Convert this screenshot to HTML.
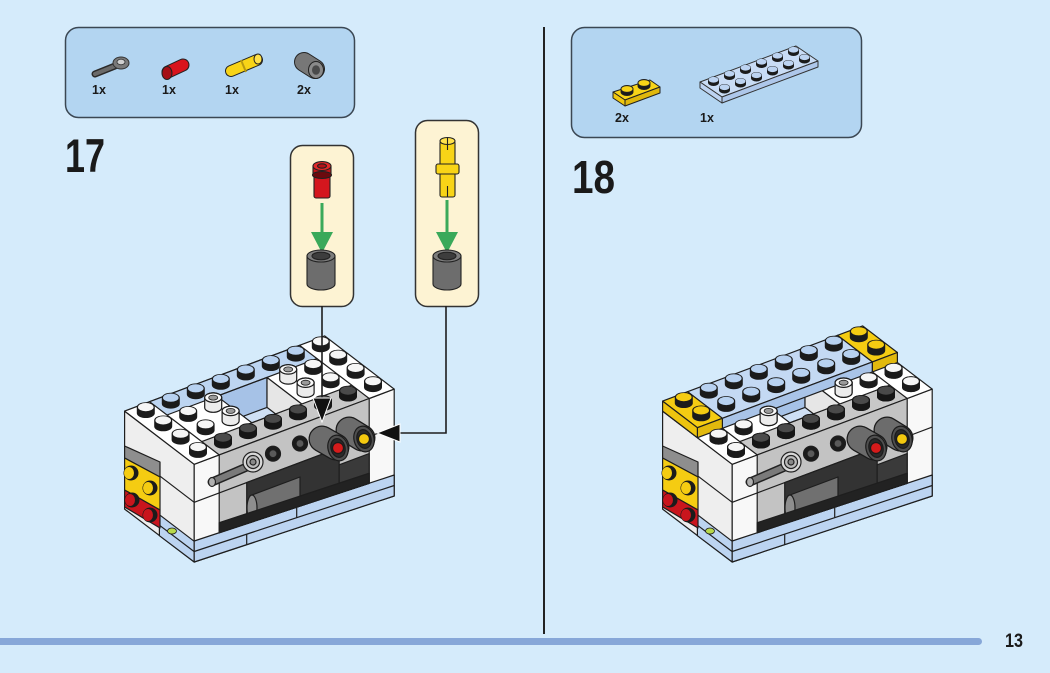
<!DOCTYPE html>
<html><head><meta charset="utf-8"><style>
html,body{margin:0;padding:0;background:#d5ebfb;}
svg{display:block;}
text{font-family:"Liberation Sans",sans-serif;font-weight:bold;fill:#1a1a1a;}
</style></head><body>
<svg width="1050" height="673" viewBox="0 0 1050 673" xmlns="http://www.w3.org/2000/svg">
<defs>
<g id="sW"><path d="M-9,0V-6A9,4.9 0 0 1 9,-6V0A9,4.9 0 0 1 -9,0Z" fill="#1b1b1b"/><ellipse cy="-6" rx="7.8" ry="4.1" fill="#f6f6f6"/></g>
<g id="sB"><path d="M-9,0V-6A9,4.9 0 0 1 9,-6V0A9,4.9 0 0 1 -9,0Z" fill="#1b1b1b"/><ellipse cy="-6" rx="7.8" ry="4.1" fill="#b7d1f0"/></g>
<g id="sK"><path d="M-9,0V-6A9,4.9 0 0 1 9,-6V0A9,4.9 0 0 1 -9,0Z" fill="#161616"/><ellipse cy="-6" rx="7.8" ry="4.1" fill="#4a4a4a"/></g>
<g id="sY"><path d="M-9,0V-6A9,4.9 0 0 1 9,-6V0A9,4.9 0 0 1 -9,0Z" fill="#1b1b1b"/><ellipse cy="-6" rx="7.8" ry="4.1" fill="#f5cc12"/></g>
<g id="sP"><path d="M-8.5,0V-10A8.5,4.7 0 0 1 8.5,-10V0A8.5,4.7 0 0 1 -8.5,0Z" fill="#ececec" stroke="#1b1b1b" stroke-width="1.2"/><ellipse cy="-10" rx="8.5" ry="4.7" fill="#fafafa" stroke="#1b1b1b" stroke-width="1.2"/><ellipse cy="-10" rx="4.5" ry="2.5" fill="#9a9a9a" stroke="#1b1b1b" stroke-width="0.8"/></g>
<clipPath id="rc"><polygon points="251.8,422.8 301.8,404 267,377.4 217,396.2"/></clipPath>

<g id="base">
<g stroke="#1e1e1e" stroke-width="1.2" stroke-linejoin="round">
<polygon points="194.2,464.3 124.6,411.1 124.6,509.1 194.2,562" fill="#eeeeee"/>
<polygon points="194.2,464.3 394.2,389.1 394.2,496 194.2,562" fill="#f8f8f8"/>
<polygon points="194.2,464.3 394.2,389.1 324.6,335.9 124.6,411.1" fill="#ffffff"/>
<polygon points="219.2,454.9 369.2,398.5 351.8,385.2 201.8,441.6" fill="#c8c8c8"/>
<polygon points="167,415 317,358.6 299.6,345.3 149.6,401.7" fill="#bdd5f1"/>
<g clip-path="url(#rc)">
<polygon points="251.8,422.8 301.8,404 267,377.4 217,396.2" fill="#cfe0f5"/>
<polygon points="217,396.2 267,377.4 267,407.4 217,426.2" fill="#a6c2e7"/>
<polygon points="301.8,404 267,377.4 267,407.4 301.8,434" fill="#e6e6e6"/>
</g>
<polygon points="251.8,422.8 301.8,404 267,377.4 217,396.2" fill="none"/>
<line x1="201.8" y1="441.6" x2="167" y2="415"/>
<line x1="351.8" y1="385.2" x2="317" y2="358.6"/>

<line x1="194.2" y1="502.3" x2="159.4" y2="475.7"/>
<polygon points="194.2,541.3 159.4,514.7 159.4,535.7 194.2,562" fill="#bcd4f1"/>
<line x1="194.2" y1="551.6" x2="159.4" y2="525.2"/>
<polygon points="124.6,446 160,462 160,477 124.6,458" fill="#8e8e8e"/>
<polygon points="124.6,458 160,477 160,510 124.6,490" fill="#f5cc12"/>
<polygon points="124.6,490 160,510 160,528 124.6,507" fill="#c9151d"/>
<ellipse cx="172" cy="531" rx="4.5" ry="3" fill="#b8d84a" stroke-width="0.8"/>

<line x1="194.2" y1="502.3" x2="219.2" y2="492.9"/>
<line x1="369.2" y1="436.5" x2="394.2" y2="427.1"/>
<polygon points="194.2,541 394.2,475 394.2,496 194.2,562" fill="#bcd4f1"/>
<line x1="194.2" y1="551.5" x2="394.2" y2="485.5"/>
<line x1="246.7" y1="534.2" x2="246.7" y2="544.7"/>
<line x1="296.7" y1="507.2" x2="296.7" y2="517.7"/>
<polygon points="219.2,454.9 369.2,398.5 369.2,483.25 219.2,532.75" fill="#c3c3c3"/>
<line x1="219.2" y1="492.9" x2="369.2" y2="436.5"/>
<polygon points="246.7,482.6 339.2,447.8 339.2,493.2 246.7,523.7" fill="#333333"/>
<polygon points="252,495 300,477 300,503 252,521" fill="#707070"/>
<ellipse cx="252" cy="508" rx="5" ry="13" fill="#8e8e8e"/>
<polygon points="339.2,464.8 369.2,453.5 369.2,483.25 339.2,493.2" fill="#3a3a3a"/>
<polygon points="219.2,522.75 369.2,473.25 369.2,483.25 219.2,532.75" fill="#222222"/>
<circle cx="273" cy="453.7" r="7.5" fill="#1b1b1b"/>
<circle cx="273" cy="453.7" r="4" fill="#5a5a5a"/>
<circle cx="300" cy="443.5" r="7.5" fill="#1b1b1b"/>
<circle cx="300" cy="443.5" r="4" fill="#5a5a5a"/>
</g>
<line x1="212" y1="482" x2="249" y2="466" stroke="#222" stroke-width="9" stroke-linecap="round"/>
<line x1="212" y1="482" x2="249" y2="466" stroke="#7a7a7a" stroke-width="6" stroke-linecap="round"/>
<g stroke="#222" stroke-width="1.2">
<ellipse cx="212" cy="482" rx="3.5" ry="4.5" fill="#b0b0b0"/>
<circle cx="253" cy="462" r="10" fill="#d8d8d8"/>
<circle cx="253" cy="462" r="6.5" fill="#bbbbbb"/>
<circle cx="253" cy="462" r="3" fill="#888"/>
</g>
<!-- bushing 2 (yellow) -->
<line x1="349" y1="430" x2="362" y2="438" stroke="#1b1b1b" stroke-width="27" stroke-linecap="round"/>
<line x1="349" y1="430" x2="362" y2="438" stroke="#6c6c6c" stroke-width="24.5" stroke-linecap="round"/>
<g stroke="#1b1b1b" stroke-width="1.2">
<ellipse cx="364" cy="439" rx="10" ry="13" transform="rotate(-15 364 439)" fill="#4f4f4f"/>
<ellipse cx="364" cy="439" rx="7" ry="9.5" transform="rotate(-15 364 439)" fill="#2a2a2a"/>
<circle cx="364" cy="439" r="5.5" fill="#f4c90f"/>
</g>
<!-- bushing 1 (red) -->
<line x1="322" y1="439" x2="336" y2="447" stroke="#1b1b1b" stroke-width="27" stroke-linecap="round"/>
<line x1="322" y1="439" x2="336" y2="447" stroke="#6c6c6c" stroke-width="24.5" stroke-linecap="round"/>
<g stroke="#1b1b1b" stroke-width="1.2">
<ellipse cx="338" cy="448" rx="10" ry="13" transform="rotate(-15 338 448)" fill="#4f4f4f"/>
<ellipse cx="338" cy="448" rx="7" ry="9.5" transform="rotate(-15 338 448)" fill="#2a2a2a"/>
<circle cx="338" cy="448" r="5.5" fill="#d51b1b"/>
</g>
<g transform="translate(131,473)"><circle r="7.5" fill="#1b1b1b"/><ellipse cx="-2" rx="5" ry="6" fill="#f5cc12"/></g>
<g transform="translate(150,488)"><circle r="7.5" fill="#1b1b1b"/><ellipse cx="-2" rx="5" ry="6" fill="#f5cc12"/></g>
<g transform="translate(132,500)"><circle r="7.5" fill="#1b1b1b"/><ellipse cx="-2" rx="5" ry="6" fill="#c9151d"/></g>
<g transform="translate(150,515)"><circle r="7.5" fill="#1b1b1b"/><ellipse cx="-2" rx="5" ry="6" fill="#c9151d"/></g>
<use href="#sW" x="320.8" y="347.3"/>
<use href="#sB" x="295.8" y="356.7"/>
<use href="#sB" x="270.8" y="366.1"/>
<use href="#sB" x="245.8" y="375.5"/>
<use href="#sB" x="220.8" y="384.9"/>
<use href="#sB" x="195.8" y="394.3"/>
<use href="#sB" x="170.8" y="403.7"/>
<use href="#sW" x="145.8" y="413.1"/>
<use href="#sW" x="338.2" y="360.6"/>
<use href="#sW" x="313.2" y="370"/>
<use href="#sP" x="288.2" y="379.4"/>
<use href="#sP" x="213.2" y="407.6"/>
<use href="#sW" x="188.2" y="417"/>
<use href="#sW" x="163.2" y="426.4"/>
<use href="#sW" x="355.6" y="373.9"/>
<use href="#sW" x="330.6" y="383.3"/>
<use href="#sP" x="305.6" y="392.7"/>
<use href="#sP" x="230.6" y="420.9"/>
<use href="#sW" x="205.6" y="430.3"/>
<use href="#sW" x="180.6" y="439.7"/>
<use href="#sW" x="373" y="387.2"/>
<use href="#sK" x="348" y="396.6"/>
<use href="#sK" x="323" y="406"/>
<use href="#sK" x="298" y="415.4"/>
<use href="#sK" x="273" y="424.8"/>
<use href="#sK" x="248" y="434.2"/>
<use href="#sK" x="223" y="443.6"/>
<use href="#sW" x="198" y="453"/>
</g>
</defs>

<!-- parts box left -->
<rect x="65.5" y="27.5" width="289" height="90" rx="13" fill="#b3d5f1" stroke="#3b4753" stroke-width="1.5"/>
<line x1="95" y1="74" x2="115" y2="66" stroke="#2a2a2a" stroke-width="7" stroke-linecap="round"/>
<line x1="95" y1="74" x2="115" y2="66" stroke="#6a6a6a" stroke-width="4" stroke-linecap="round"/>
<ellipse cx="121" cy="63" rx="8" ry="6" fill="#7a7a7a" stroke="#333" stroke-width="1"/>
<ellipse cx="121" cy="62" rx="4" ry="2.8" fill="#d0d0d0" stroke="#333" stroke-width="0.8"/>
<line x1="168" y1="72" x2="183" y2="65" stroke="#222" stroke-width="13" stroke-linecap="round"/>
<line x1="168" y1="72" x2="183" y2="65" stroke="#d8141c" stroke-width="11" stroke-linecap="round"/>
<ellipse cx="167" cy="73" rx="5" ry="6.5" fill="#a50f16" stroke="#222" stroke-width="1"/>
<line x1="231" y1="71" x2="257" y2="60" stroke="#222" stroke-width="12" stroke-linecap="round"/>
<line x1="231" y1="71" x2="257" y2="60" stroke="#f8d417" stroke-width="10" stroke-linecap="round"/>
<line x1="241" y1="60" x2="246" y2="72" stroke="#b89a10" stroke-width="2"/>
<ellipse cx="258" cy="59" rx="4" ry="5" fill="#ffe14a" stroke="#222" stroke-width="1"/>
<line x1="304" y1="62" x2="315" y2="69" stroke="#222" stroke-width="20" stroke-linecap="round"/>
<line x1="304" y1="62" x2="315" y2="69" stroke="#777" stroke-width="18" stroke-linecap="round"/>
<ellipse cx="316" cy="70" rx="7.5" ry="8.5" fill="#8a8a8a" stroke="#222" stroke-width="1"/>
<ellipse cx="316" cy="70" rx="4" ry="4.8" fill="#4a4a4a"/>
<text x="92" y="94" font-size="12.5">1x</text>
<text x="162" y="94" font-size="12.5">1x</text>
<text x="225" y="94" font-size="12.5">1x</text>
<text x="297" y="94" font-size="12.5">2x</text>

<text x="65" y="172" font-size="47" textLength="40" lengthAdjust="spacingAndGlyphs">17</text>

<!-- callouts -->
<rect x="290.5" y="145.5" width="63" height="161" rx="12" fill="#fdf3d3" stroke="#333" stroke-width="1.5"/>
<rect x="415.5" y="120.5" width="63" height="186" rx="12" fill="#fdf3d3" stroke="#333" stroke-width="1.5"/>
<g stroke="#222" stroke-width="1.1">
<rect x="314" y="172" width="16" height="26" rx="2" fill="#d4161e"/>
<rect x="313" y="166" width="18" height="9" fill="#c81419"/>
<ellipse cx="322" cy="175" rx="9.5" ry="3.5" fill="#6b0a0e"/>
<ellipse cx="322" cy="166" rx="9" ry="4.5" fill="#e02a2a"/>
<ellipse cx="322" cy="166" rx="4.5" ry="2.2" fill="#b51218"/>
</g>
<line x1="322" y1="203" x2="322" y2="236" stroke="#3aa95a" stroke-width="3"/>
<polygon points="311,232 333,232 322,253" fill="#3aa95a"/>
<g stroke="#222" stroke-width="1.1">
<path d="M307,256 V284 A14,6 0 0 0 335,284 V256 Z" fill="#6d6d6d"/>
<ellipse cx="321" cy="256" rx="14" ry="6" fill="#7d7d7d"/>
<ellipse cx="321" cy="256" rx="9" ry="3.8" fill="#3d3d3d"/>
</g>
<g stroke="#222" stroke-width="1.1">
<rect x="440" y="141" width="15" height="56" rx="2" fill="#f8d417"/>
<rect x="436" y="164" width="23" height="10" rx="2" fill="#f8d417"/>
<ellipse cx="447.5" cy="141" rx="7.5" ry="3.5" fill="#ffe14a"/>
<line x1="447.5" y1="138" x2="447.5" y2="150"/>
<line x1="447.5" y1="186" x2="447.5" y2="197"/>
</g>
<line x1="447" y1="200" x2="447" y2="236" stroke="#3aa95a" stroke-width="3"/>
<polygon points="436,232 458,232 447,253" fill="#3aa95a"/>
<g stroke="#222" stroke-width="1.1">
<path d="M433,256 V284 A14,6 0 0 0 461,284 V256 Z" fill="#6d6d6d"/>
<ellipse cx="447" cy="256" rx="14" ry="6" fill="#7d7d7d"/>
<ellipse cx="447" cy="256" rx="9" ry="3.8" fill="#3d3d3d"/>
</g>

<!-- model 17 -->
<use href="#base"/>
<g fill="none" stroke="#1e1e1e" stroke-width="1.6">
<line x1="322" y1="306" x2="322" y2="399"/>
<polyline points="446,306 446,433 399,433"/>
</g>
<polygon points="313,398 331,398 322,422" fill="#111" stroke="#fff" stroke-width="1"/>
<polygon points="400,424 400,442 377,433" fill="#111" stroke="#fff" stroke-width="1"/>

<!-- separator -->
<line x1="544" y1="27" x2="544" y2="634" stroke="#222" stroke-width="2"/>

<!-- parts box right -->
<rect x="571.5" y="27.5" width="290" height="110" rx="13" fill="#b3d5f1" stroke="#3b4753" stroke-width="1.5"/>
<g stroke="#222" stroke-width="1" stroke-linejoin="round">
<polygon points="613,92 650,80 660,87 625,100" fill="#f8d417"/>
<polygon points="625,100 660,87 660,93 625,106" fill="#e0b80d"/>
<polygon points="613,92 625,100 625,106 613,98" fill="#f0c810"/>
</g>
<g stroke="#222" stroke-width="0.9">
<path d="M621,92 v-3 a6,3.5 0 0 1 12,0 v3 a6,3.5 0 0 1 -12,0z" fill="#1b1b1b"/><ellipse cx="627" cy="89" rx="6" ry="3.3" fill="#f8d417"/>
<path d="M638,86 v-3 a6,3.5 0 0 1 12,0 v3 a6,3.5 0 0 1 -12,0z" fill="#1b1b1b"/><ellipse cx="644" cy="83" rx="6" ry="3.3" fill="#f8d417"/>
</g>
<g stroke="#333" stroke-width="1" stroke-linejoin="round">
<polygon points="700,82 796,46 818,61 722,97" fill="#c9dcf5"/>
<polygon points="722,97 818,61 818,67 722,103" fill="#aec7ea"/>
<polygon points="700,82 722,97 722,103 700,88" fill="#bdd3f1"/>
</g>
<g>
<g transform="translate(724.5,90.25)"><path d="M-5.5,0v-3a5.5,3.2 0 0 1 11,0v3a5.5,3.2 0 0 1 -11,0z" fill="#1b1b1b"/><ellipse cy="-3" rx="5" ry="2.9" fill="#bcd3f1"/></g>
<g transform="translate(740.5,84.25)"><path d="M-5.5,0v-3a5.5,3.2 0 0 1 11,0v3a5.5,3.2 0 0 1 -11,0z" fill="#1b1b1b"/><ellipse cy="-3" rx="5" ry="2.9" fill="#bcd3f1"/></g>
<g transform="translate(756.5,78.25)"><path d="M-5.5,0v-3a5.5,3.2 0 0 1 11,0v3a5.5,3.2 0 0 1 -11,0z" fill="#1b1b1b"/><ellipse cy="-3" rx="5" ry="2.9" fill="#bcd3f1"/></g>
<g transform="translate(772.5,72.25)"><path d="M-5.5,0v-3a5.5,3.2 0 0 1 11,0v3a5.5,3.2 0 0 1 -11,0z" fill="#1b1b1b"/><ellipse cy="-3" rx="5" ry="2.9" fill="#bcd3f1"/></g>
<g transform="translate(788.5,66.25)"><path d="M-5.5,0v-3a5.5,3.2 0 0 1 11,0v3a5.5,3.2 0 0 1 -11,0z" fill="#1b1b1b"/><ellipse cy="-3" rx="5" ry="2.9" fill="#bcd3f1"/></g>
<g transform="translate(804.5,60.25)"><path d="M-5.5,0v-3a5.5,3.2 0 0 1 11,0v3a5.5,3.2 0 0 1 -11,0z" fill="#1b1b1b"/><ellipse cy="-3" rx="5" ry="2.9" fill="#bcd3f1"/></g>
<g transform="translate(713.5,82.75)"><path d="M-5.5,0v-3a5.5,3.2 0 0 1 11,0v3a5.5,3.2 0 0 1 -11,0z" fill="#1b1b1b"/><ellipse cy="-3" rx="5" ry="2.9" fill="#bcd3f1"/></g>
<g transform="translate(729.5,76.75)"><path d="M-5.5,0v-3a5.5,3.2 0 0 1 11,0v3a5.5,3.2 0 0 1 -11,0z" fill="#1b1b1b"/><ellipse cy="-3" rx="5" ry="2.9" fill="#bcd3f1"/></g>
<g transform="translate(745.5,70.75)"><path d="M-5.5,0v-3a5.5,3.2 0 0 1 11,0v3a5.5,3.2 0 0 1 -11,0z" fill="#1b1b1b"/><ellipse cy="-3" rx="5" ry="2.9" fill="#bcd3f1"/></g>
<g transform="translate(761.5,64.75)"><path d="M-5.5,0v-3a5.5,3.2 0 0 1 11,0v3a5.5,3.2 0 0 1 -11,0z" fill="#1b1b1b"/><ellipse cy="-3" rx="5" ry="2.9" fill="#bcd3f1"/></g>
<g transform="translate(777.5,58.75)"><path d="M-5.5,0v-3a5.5,3.2 0 0 1 11,0v3a5.5,3.2 0 0 1 -11,0z" fill="#1b1b1b"/><ellipse cy="-3" rx="5" ry="2.9" fill="#bcd3f1"/></g>
<g transform="translate(793.5,52.75)"><path d="M-5.5,0v-3a5.5,3.2 0 0 1 11,0v3a5.5,3.2 0 0 1 -11,0z" fill="#1b1b1b"/><ellipse cy="-3" rx="5" ry="2.9" fill="#bcd3f1"/></g>
</g>
<text x="615" y="122" font-size="12.5">2x</text>
<text x="700" y="122" font-size="12.5">1x</text>

<text x="572" y="193" font-size="46" textLength="43" lengthAdjust="spacingAndGlyphs">18</text>

<!-- model 18 -->
<use href="#base" transform="translate(538,0)"/>
<g transform="translate(538,0)">
<g stroke="#1e1e1e" stroke-width="1.2" stroke-linejoin="round">
<polygon points="184.4,418.3 334.4,361.9 299.6,335.3 149.6,391.7" fill="#c4d9f3"/>
<polygon points="184.4,418.3 334.4,361.9 334.4,371.9 184.4,428.3" fill="#a9c4e8"/>
<polygon points="159.4,427.7 184.4,418.3 149.6,391.7 124.6,401.1" fill="#f5cc12"/>
<polygon points="159.4,427.7 184.4,418.3 184.4,428.3 159.4,437.7" fill="#e2b90d"/>
<polygon points="159.4,427.7 124.6,401.1 124.6,411.1 159.4,437.7" fill="#eec40f"/>
<polygon points="334.4,361.9 359.4,352.5 324.6,325.9 299.6,335.3" fill="#f5cc12"/>
<polygon points="334.4,361.9 359.4,352.5 359.4,362.5 334.4,371.9" fill="#e2b90d"/>
</g>
<use href="#sY" x="320.8" y="337.3"/>
<use href="#sB" x="295.8" y="346.7"/>
<use href="#sB" x="270.8" y="356.1"/>
<use href="#sB" x="245.8" y="365.5"/>
<use href="#sB" x="220.8" y="374.9"/>
<use href="#sB" x="195.8" y="384.3"/>
<use href="#sB" x="170.8" y="393.7"/>
<use href="#sY" x="145.8" y="403.1"/>
<use href="#sY" x="338.2" y="350.6"/>
<use href="#sB" x="313.2" y="360"/>
<use href="#sB" x="288.2" y="369.4"/>
<use href="#sB" x="263.2" y="378.8"/>
<use href="#sB" x="238.2" y="388.2"/>
<use href="#sB" x="213.2" y="397.6"/>
<use href="#sB" x="188.2" y="407"/>
<use href="#sY" x="163.2" y="416.4"/>
<use href="#sP" x="305.6" y="392.7"/>
<use href="#sP" x="230.6" y="420.9"/>
<use href="#sW" x="205.6" y="430.3"/>
<use href="#sW" x="330.6" y="383.3"/>
<use href="#sW" x="355.6" y="373.9"/>
<use href="#sW" x="373" y="387.2"/>
<use href="#sK" x="348" y="396.6"/>
<use href="#sK" x="323" y="406"/>
<use href="#sK" x="298" y="415.4"/>
<use href="#sK" x="273" y="424.8"/>
<use href="#sK" x="248" y="434.2"/>
<use href="#sK" x="223" y="443.6"/>
<use href="#sW" x="198" y="453"/>
<use href="#sW" x="180.6" y="439.7"/>
</g>

<!-- footer -->
<rect x="-10" y="638" width="992" height="7" rx="3.5" fill="#87a7d8"/>
<text x="1005" y="647" font-size="19" textLength="18" lengthAdjust="spacingAndGlyphs">13</text>
</svg>
</body></html>
